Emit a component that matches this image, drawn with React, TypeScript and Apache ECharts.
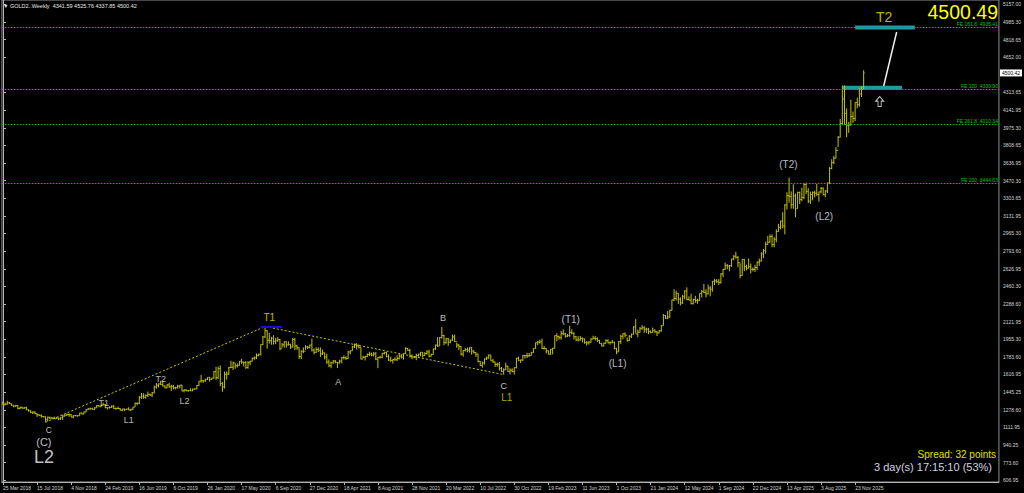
import React, { useEffect, useRef } from "react";
import * as echarts from "echarts";

// ---------- DATA ----------
const firstWeek = "2018-03-25";
const firstOpen = 1347;
// weekly bars: [high, low, close]
const y2018 = [
  [1356, 1322, 1325], [1348, 1322, 1332], [1365, 1327, 1345], [1353, 1334, 1336], [1338, 1316, 1323],
  [1320, 1302, 1314], [1326, 1306, 1319], [1322, 1282, 1291], [1306, 1285, 1302], [1308, 1289, 1294],
  [1306, 1288, 1298], [1309, 1276, 1278], [1283, 1261, 1270], [1275, 1246, 1253], [1264, 1238, 1256],
  [1265, 1237, 1241], [1245, 1211, 1231], [1235, 1219, 1223], [1236, 1204, 1214], [1220, 1206, 1212],
  [1214, 1160, 1184], [1214, 1172, 1206], [1214, 1190, 1201], [1207, 1188, 1198], [1214, 1190, 1193],
  [1211, 1192, 1200], [1204, 1180, 1192], [1207, 1182, 1204], [1233, 1182, 1218], [1233, 1214, 1227],
  [1243, 1222, 1234], [1243, 1211, 1232], [1237, 1208, 1209], [1226, 1196, 1222], [1230, 1217, 1222],
  [1229, 1212, 1222], [1250, 1221, 1248], [1252, 1235, 1238], [1262, 1236, 1257], [1283, 1256, 1279],
  [1298, 1278, 1287],
];
const y2019 = [
  [1298, 1279, 1290], [1298, 1281, 1282], [1304, 1276, 1298], [1326, 1297, 1318], [1320, 1304, 1314],
  [1322, 1302, 1322], [1346, 1319, 1328], [1334, 1294, 1299], [1300, 1281, 1298], [1311, 1290, 1302],
  [1320, 1296, 1313], [1324, 1287, 1292], [1300, 1280, 1291], [1310, 1288, 1291], [1295, 1270, 1275],
  [1288, 1266, 1286], [1290, 1266, 1280], [1288, 1279, 1286], [1303, 1274, 1277], [1287, 1267, 1284],
  [1306, 1278, 1305], [1348, 1305, 1341], [1348, 1322, 1341], [1411, 1333, 1399], [1439, 1382, 1409],
  [1437, 1383, 1399], [1427, 1386, 1415], [1453, 1401, 1426], [1433, 1412, 1419], [1449, 1400, 1440],
  [1510, 1437, 1497], [1535, 1480, 1513], [1531, 1492, 1527], [1555, 1517, 1520], [1557, 1503, 1506],
  [1512, 1485, 1488], [1523, 1484, 1517], [1535, 1489, 1497], [1519, 1459, 1504], [1517, 1474, 1489],
  [1499, 1474, 1490], [1518, 1481, 1505], [1516, 1484, 1514], [1519, 1456, 1459], [1475, 1446, 1468],
  [1477, 1456, 1462], [1466, 1450, 1464], [1484, 1458, 1460], [1481, 1456, 1476], [1482, 1470, 1478],
  [1514, 1477, 1511], [1553, 1508, 1552],
];
const y2020 = [
  [1611, 1538, 1557], [1564, 1536, 1557], [1574, 1546, 1571], [1589, 1563, 1589], [1591, 1548, 1570],
  [1584, 1562, 1584], [1649, 1576, 1643], [1689, 1564, 1585], [1692, 1574, 1674], [1704, 1504, 1530],
  [1545, 1451, 1499], [1644, 1482, 1617], [1645, 1567, 1620], [1689, 1612, 1682], [1747, 1680, 1684],
  [1739, 1660, 1728], [1723, 1671, 1700], [1722, 1683, 1703], [1744, 1701, 1743], [1765, 1717, 1734],
  [1740, 1693, 1730], [1745, 1670, 1684], [1744, 1671, 1729], [1748, 1704, 1743], [1779, 1742, 1771],
  [1789, 1757, 1775], [1818, 1764, 1798], [1815, 1790, 1810], [1905, 1797, 1902], [1984, 1898, 1975],
  [2075, 1965, 2035], [2039, 1863, 1944], [2015, 1911, 1940], [1977, 1901, 1964], [1992, 1902, 1933],
  [1966, 1906, 1940], [1973, 1930, 1950], [1954, 1848, 1862], [1917, 1873, 1900], [1933, 1873, 1930],
  [1933, 1872, 1900], [1933, 1894, 1902], [1910, 1860, 1879], [1965, 1874, 1951], [1966, 1848, 1889],
  [1900, 1853, 1871], [1875, 1764, 1788], [1848, 1764, 1838], [1875, 1820, 1839], [1896, 1852, 1881],
  [1890, 1860, 1876], [1900, 1865, 1898],
];
const y2021 = [
  [1959, 1836, 1850], [1864, 1808, 1828], [1875, 1823, 1856], [1875, 1831, 1848], [1875, 1785, 1814],
  [1855, 1803, 1823], [1825, 1760, 1784], [1816, 1717, 1734], [1760, 1687, 1700], [1739, 1676, 1727],
  [1755, 1719, 1745], [1755, 1722, 1733], [1733, 1678, 1728], [1758, 1721, 1744], [1785, 1723, 1777],
  [1798, 1760, 1777], [1790, 1756, 1768], [1843, 1766, 1831], [1845, 1808, 1843], [1890, 1843, 1881],
  [1912, 1869, 1905], [1916, 1856, 1891], [1903, 1866, 1877], [1877, 1761, 1764], [1795, 1770, 1781],
  [1795, 1750, 1787], [1818, 1784, 1808], [1834, 1792, 1812], [1825, 1790, 1802], [1832, 1789, 1814],
  [1832, 1753, 1763], [1782, 1677, 1780], [1795, 1769, 1781], [1823, 1772, 1818], [1834, 1807, 1827],
  [1834, 1782, 1787], [1809, 1745, 1754], [1787, 1737, 1750], [1764, 1721, 1761], [1781, 1746, 1757],
  [1800, 1746, 1768], [1813, 1760, 1793], [1810, 1770, 1783], [1818, 1758, 1818], [1877, 1813, 1865],
  [1870, 1844, 1846], [1861, 1778, 1788], [1809, 1762, 1783], [1793, 1772, 1783], [1815, 1753, 1798],
  [1815, 1785, 1811], [1831, 1790, 1829],
];
const y2022 = [
  [1831, 1778, 1797], [1830, 1797, 1817], [1848, 1805, 1832], [1853, 1780, 1791], [1815, 1788, 1808],
  [1865, 1807, 1860], [1902, 1850, 1898], [1974, 1878, 1889], [1974, 1889, 1970], [2070, 1960, 1989],
  [1996, 1895, 1921], [1966, 1910, 1958], [1966, 1890, 1925], [1950, 1915, 1946], [1998, 1938, 1975],
  [1998, 1927, 1931], [1921, 1872, 1897], [1909, 1850, 1883], [1890, 1798, 1811], [1849, 1786, 1846],
  [1870, 1836, 1853], [1874, 1828, 1850], [1877, 1826, 1871], [1879, 1805, 1840], [1847, 1816, 1827],
  [1830, 1784, 1811], [1814, 1732, 1742], [1745, 1697, 1703], [1740, 1681, 1727], [1767, 1711, 1766],
  [1788, 1754, 1775], [1808, 1766, 1802], [1802, 1746, 1747], [1765, 1728, 1737], [1739, 1688, 1712],
  [1729, 1691, 1716], [1735, 1654, 1675], [1688, 1639, 1644], [1675, 1615, 1660], [1730, 1660, 1695],
  [1700, 1641, 1644], [1676, 1617, 1657], [1675, 1638, 1645], [1684, 1616, 1681], [1775, 1675, 1771],
  [1787, 1747, 1751], [1760, 1726, 1755], [1804, 1745, 1797], [1801, 1768, 1797], [1824, 1773, 1793],
  [1823, 1785, 1798], [1833, 1797, 1824],
];
const y2023 = [
  [1865, 1823, 1865], [1922, 1866, 1920], [1937, 1896, 1926], [1949, 1911, 1928], [1959, 1861, 1865],
  [1890, 1855, 1865], [1870, 1818, 1842], [1847, 1809, 1811], [1858, 1804, 1856], [1870, 1809, 1868],
  [1989, 1865, 1988], [2010, 1934, 1978], [1988, 1949, 1969], [2032, 1949, 2007], [2048, 1992, 2004],
  [2015, 1969, 1983], [2004, 1974, 1990], [2081, 1976, 2017], [2048, 2000, 2011], [2019, 1951, 1977],
  [1985, 1937, 1946], [1983, 1932, 1948], [1985, 1939, 1961], [1971, 1924, 1958], [1959, 1910, 1921],
  [1936, 1893, 1919], [1935, 1902, 1925], [1963, 1921, 1955], [1987, 1953, 1962], [1984, 1942, 1959],
  [1971, 1926, 1942], [1948, 1910, 1914], [1918, 1885, 1889], [1922, 1884, 1914], [1953, 1913, 1940],
  [1953, 1915, 1919], [1933, 1901, 1924], [1947, 1913, 1925], [1929, 1857, 1866], [1870, 1810, 1833],
  [1936, 1833, 1932], [1997, 1908, 1981], [2009, 1953, 2006], [2019, 1970, 1992], [1971, 1931, 1940],
  [1993, 1935, 1981], [2007, 1965, 2002], [2076, 1999, 2072], [2146, 2009, 2004], [2047, 1973, 2020],
  [2070, 2017, 2053], [2088, 2044, 2063], [2079, 2016, 2049],
];
const y2024 = [
  [2064, 2013, 2049], [2062, 2002, 2029], [2037, 2010, 2018], [2065, 2017, 2039], [2048, 2015, 2024],
  [2031, 1984, 2013], [2041, 2010, 2035], [2088, 2025, 2083], [2195, 2083, 2179], [2185, 2146, 2155],
  [2223, 2146, 2166], [2236, 2160, 2230], [2331, 2228, 2329], [2432, 2319, 2344], [2418, 2324, 2392],
  [2394, 2291, 2337], [2353, 2277, 2301], [2378, 2291, 2360], [2422, 2334, 2415], [2450, 2325, 2334],
  [2364, 2326, 2327], [2388, 2287, 2294], [2342, 2286, 2333], [2369, 2302, 2322], [2340, 2293, 2326],
  [2392, 2319, 2391], [2424, 2353, 2411], [2483, 2396, 2401], [2433, 2353, 2387], [2477, 2380, 2443],
  [2462, 2364, 2431], [2509, 2408, 2508], [2531, 2470, 2512], [2528, 2492, 2503], [2529, 2471, 2497],
  [2586, 2485, 2578], [2625, 2546, 2622], [2686, 2615, 2658], [2672, 2624, 2653], [2662, 2603, 2657],
  [2724, 2645, 2721], [2758, 2708, 2747], [2790, 2724, 2737], [2750, 2643, 2685], [2680, 2536, 2563],
  [2722, 2563, 2716], [2721, 2605, 2650], [2666, 2613, 2633], [2726, 2632, 2648], [2678, 2583, 2622],
  [2640, 2603, 2621], [2665, 2596, 2640],
];
const y2025 = [
  [2697, 2614, 2690], [2726, 2656, 2702], [2786, 2696, 2770], [2817, 2730, 2800], [2887, 2772, 2861],
  [2942, 2859, 2882], [2955, 2877, 2935], [2956, 2833, 2858], [2930, 2832, 2910], [3005, 2880, 2984],
  [3057, 2982, 3023], [3086, 3004, 3084], [3167, 3015, 3037], [3245, 2957, 3237], [3358, 3194, 3327],
  [3500, 3260, 3319], [3368, 3202, 3240], [3435, 3201, 3325], [3345, 3121, 3203], [3365, 3204, 3357],
  [3366, 3245, 3289], [3403, 3274, 3310], [3446, 3293, 3433], [3452, 3340, 3368], [3398, 3255, 3274],
  [3365, 3247, 3337], [3368, 3282, 3355], [3375, 3309, 3350], [3439, 3325, 3337], [3363, 3268, 3363],
  [3409, 3350, 3398], [3405, 3330, 3336], [3378, 3311, 3372], [3453, 3351, 3448], [3600, 3436, 3587],
  [3675, 3579, 3643], [3708, 3628, 3685], [3791, 3684, 3760], [3897, 3793, 3886], [4059, 3884, 4018],
  [4380, 4000, 4251], [4381, 4004, 4113], [4161, 3887, 4000], [4032, 3927, 4002], [4245, 3996, 4084],
  [4131, 4022, 4065], [4218, 4040, 4218], [4264, 4162, 4198], [4353, 4178, 4300], [4375, 4270, 4341.59],
  [4525.76, 4337.85, 4500.42],
];

const yTickValues = [
  5157.0, 4985.3, 4818.65, 4652.0, 4313.65, 4141.95, 3975.3, 3808.65, 3636.95, 3470.3, 3303.65,
  3131.95, 2965.3, 2793.6, 2626.95, 2460.3, 2288.6, 2121.95, 1955.3, 1783.6, 1616.95, 1445.25,
  1278.6, 1111.95, 940.25, 773.6, 606.95,
];
const xTickLabels = [
  "25 Mar 2018", "15 Jul 2018", "4 Nov 2018", "24 Feb 2019", "16 Jun 2019", "6 Oct 2019",
  "26 Jan 2020", "17 May 2020", "6 Sep 2020", "27 Dec 2020", "18 Apr 2021", "8 Aug 2021",
  "28 Nov 2021", "20 Mar 2022", "10 Jul 2022", "30 Oct 2022", "19 Feb 2023", "11 Jun 2023",
  "1 Oct 2023", "21 Jan 2024", "12 May 2024", "1 Sep 2024", "22 Dec 2024", "13 Apr 2025",
  "3 Aug 2025", "23 Nov 2025",
];
const futureWeeks = 63;

const feNames = ["FE 161.8", "FE 100", "FE 261.8", "FE 200"];
const feValues = [4935.41, 4339.9, 4010.34, 3444.63];

// wave labels: text, bar index, price
const waveTexts = ["C", "(C)", "L2", "T1", "L1", "T2", "L2", "T1", "A", "B", "C", "L1", "(T1)", "(L1)", "(T2)", "(L2)", "T2"];
const waveIdx = [21.5, 19.2, 19.2, 47.3, 59, 74, 85.2, 125, 157.4, 206.6, 235.1, 236.5, 266.5, 288.5, 368.7, 385.5, 413.6];
const wavePrice = [1088, 975, 830, 1344, 1181, 1573, 1363, 2166, 1545, 2157, 1510, 1398, 2138, 1717, 3620, 3132, 5035];
const waveKind = ["ws", "wm", "wl", "g", "g", "g", "g", "y", "w", "w", "w", "y2", "p", "p", "p", "p", "yt"];

// trend lines (bar index, price)
const trendFrom = [[20, 1160], [123, 2075]];
const trendTo = [[123, 2075], [235, 1615]];
const peakMark = [[121, 2075], [131, 2075]];
const targetBoxes = [
  [[400, 4955], [428, 4915]],
  [[394, 4378], [422, 4340]],
];
const targetLine = [[419.5, 4892], [413.4, 4375]];
const arrowPoint = [411.5, 4227];

const headerText = "▼ GOLD2..Weekly  4341.59 4525.76 4337.85 4500.42";
const bigPrice = "4500.49";
const spreadText = "Spread: 32 points";
const timerText = "3 day(s) 17:15:10 (53%)";
const lastPrice = 4500.42;

// ---------- BUILD ----------
const MONTHS = ["Jan", "Feb", "Mar", "Apr", "May", "Jun", "Jul", "Aug", "Sep", "Oct", "Nov", "Dec"];
const allWeeks = [...y2018, ...y2019, ...y2020, ...y2021, ...y2022, ...y2023, ...y2024, ...y2025];
const bars: number[][] = [];
let prevClose = firstOpen;
allWeeks.forEach((w, i) => {
  bars.push([i, prevClose, w[0], w[1], w[2]]);
  prevClose = w[2];
});
const totalSlots = bars.length + futureWeeks;
const t0 = Date.parse(firstWeek + "T00:00:00Z");
const weekNames: string[] = [];
for (let i = 0; i < bars.length; i++) {
  const d = new Date(t0 + i * 7 * 86400000);
  weekNames.push(`${d.getUTCDate()} ${MONTHS[d.getUTCMonth()]} ${d.getUTCFullYear()}`);
}
const xTickIdx = xTickLabels.map((s) => weekNames.indexOf(s)).filter((i) => i >= 0);

const FONT = "'Liberation Sans', Arial, sans-serif";
const BAR_COLOR = "#c4c400";
const AXIS_COLOR = "#b4b4b4";
const FE_COLOR = "#00c000";

const kindStyle: Record<string, any> = {
  ws: { color: "#f0f0f0", fontSize: 8.5 },
  w: { color: "#f0f0f0", fontSize: 9 },
  wm: { color: "#f0f0f0", fontSize: 11 },
  wl: { color: "#f4f4f4", fontSize: 18 },
  g: { color: "#e2e2e2", fontSize: 9 },
  y: { color: "#e8e800", fontSize: 10 },
  y2: { color: "#d8d800", fontSize: 10 },
  p: { color: "#e2e9f8", fontSize: 10 },
  yt: { color: "#e6e600", fontSize: 14 },
};

export default function App() {
  const ref = useRef<HTMLDivElement>(null);
  useEffect(() => {
    document.body.style.margin = "0";
    document.body.style.background = "#000";
    const chart = echarts.init(ref.current!, null, { renderer: "svg" });

    const renderBar = (_p: any, api: any) => {
      const i = api.value(0);
      const o = api.coord([i, api.value(1)]);
      const h = api.coord([i, api.value(2)]);
      const l = api.coord([i, api.value(3)]);
      const c = api.coord([i, api.value(4)]);
      const x = o[0];
      const style = { stroke: BAR_COLOR, lineWidth: 1 };
      return {
        type: "group",
        children: [
          { type: "line", shape: { x1: x, y1: h[1], x2: x, y2: l[1] }, style },
          { type: "line", shape: { x1: x - 1, y1: o[1], x2: x, y2: o[1] }, style },
          { type: "line", shape: { x1: x, y1: c[1], x2: x + 1, y2: c[1] }, style },
        ],
      };
    };

    const xMin = -0.5;
    const xMax = totalSlots - 0.5;
    const feLines = feValues.map((v, k) => [
      {
        coord: [xMin, v],
        label: {
          show: true,
          position: "insideEndTop",
          formatter: `${feNames[k]}  ${v.toFixed(2)}`,
          color: "#00c800",
          fontSize: 5,
          fontFamily: FONT,
          distance: 1,
        },
      },
      { coord: [xMax, v] },
    ]);
    const trendLines = trendFrom.map((f, k) => [
      { coord: f, lineStyle: { color: "#c8c800", type: [2, 2], width: 1 } },
      { coord: trendTo[k] },
    ]);

    const option: any = {
      animation: false,
      backgroundColor: "#000000",
      grid: { left: 0, right: 25, top: 0, bottom: 11, show: true, borderColor: "#909090", borderWidth: 1 },
      xAxis: {
        type: "value",
        min: xMin,
        max: xMax,
        splitLine: { show: false },
        axisLine: { show: true, lineStyle: { color: AXIS_COLOR } },
        axisTick: { show: true, length: 3, lineStyle: { color: AXIS_COLOR }, customValues: xTickIdx },
        axisLabel: {
          customValues: xTickIdx,
          formatter: (v: number) => weekNames[Math.round(v)] || "",
          color: "#d4d4d4",
          fontSize: 5,
          fontFamily: FONT,
          align: "left",
          margin: 3,
        },
      },
      yAxis: {
        type: "value",
        position: "right",
        min: 588,
        max: 5198,
        splitLine: { show: false },
        axisLine: { show: true, lineStyle: { color: AXIS_COLOR } },
        axisTick: { show: true, length: 3, lineStyle: { color: AXIS_COLOR }, customValues: yTickValues },
        axisLabel: {
          customValues: yTickValues,
          formatter: (v: number) => v.toFixed(2),
          color: "#d4d4d4",
          fontSize: 5,
          fontFamily: FONT,
          margin: 4,
        },
      },
      series: [
        {
          type: "line",
          z: 1,
          data: [],
          showSymbol: false,
          silent: true,
          markLine: {
            silent: true,
            symbol: ["none", "none"],
            label: { show: false },
            lineStyle: { color: FE_COLOR, type: [1.5, 1.5], width: 1, opacity: 1 },
            data: feLines,
          },
        },
        {
          type: "line",
          z: 1,
          data: bars.map((b) => [b[0], b[4]]),
          showSymbol: false,
          silent: true,
          lineStyle: { opacity: 0 },
          markLine: {
            silent: true,
            symbol: ["none", "none"],
            label: { show: false },
            data: [
              ...trendLines,
              [
                { coord: peakMark[0], lineStyle: { color: "#1010e0", type: "solid", width: 2 } },
                { coord: peakMark[1] },
              ],
              [
                { coord: targetLine[0], lineStyle: { color: "#f0f0f0", type: "solid", width: 1.5 } },
                { coord: targetLine[1] },
              ],
            ],
          },
          markArea: {
            silent: true,
            itemStyle: { color: "#1b9d9d", opacity: 1 },
            data: targetBoxes.map((b) => [{ coord: b[0] }, { coord: b[1] }]),
          },
        },
        {
          type: "custom",
          z: 2,
          renderItem: renderBar,
          data: bars,
          encode: { x: 0, y: [1, 2, 3, 4] },
          silent: true,
        },
        {
          type: "scatter",
          z: 3,
          symbolSize: 0,
          silent: true,
          data: waveTexts.map((t, k) => ({
            value: [waveIdx[k], wavePrice[k]],
            label: {
              show: true,
              position: "inside",
              formatter: t,
              fontFamily: FONT,
              ...kindStyle[waveKind[k]],
            },
          })),
        },
        {
          type: "scatter",
          z: 3,
          silent: true,
          symbol: "path://M5,0 L10,5 L7,5 L7,11 L3,11 L3,5 L0,5 Z",
          symbolSize: [8, 10],
          itemStyle: { color: "#000", borderColor: "#f0f0f0", borderWidth: 1 },
          data: [arrowPoint],
        },
      ],
    };
    chart.setOption(option);

    const py = chart.convertToPixel({ yAxisIndex: 0 }, lastPrice) as number;
    chart.setOption({
      graphic: [
        {
          type: "text",
          left: 3,
          top: 3,
          style: { text: headerText, fill: "#e8e8e8", fontSize: 5.5, fontFamily: FONT },
        },
        {
          type: "text",
          x: 998,
          y: 12,
          style: { text: bigPrice, fill: "#ffff00", fontSize: 19.5, fontFamily: FONT, align: "right", verticalAlign: "middle" },
        },
        {
          type: "text",
          x: 996,
          y: 454,
          style: { text: spreadText, fill: "#e0e000", fontSize: 10, fontFamily: FONT, align: "right", verticalAlign: "middle" },
        },
        {
          type: "text",
          x: 992,
          y: 467,
          style: { text: timerText, fill: "#d2d2e2", fontSize: 11, fontFamily: FONT, align: "right", verticalAlign: "middle" },
        },
        {
          type: "group",
          x: 1000,
          y: py,
          z: 10,
          children: [
            { type: "rect", shape: { x: 0, y: -3.5, width: 22, height: 7 }, style: { fill: "#ffffff" } },
            {
              type: "text",
              x: 11,
              y: 0,
              style: { text: lastPrice.toFixed(2), fill: "#000", fontSize: 5, fontFamily: FONT, align: "center", verticalAlign: "middle" },
            },
          ],
        },
      ],
    });
    return () => chart.dispose();
  }, []);
  return <div ref={ref} style={{ position: "fixed", left: 0, top: 0, width: 1024, height: 493, background: "#000" }} />;
}
